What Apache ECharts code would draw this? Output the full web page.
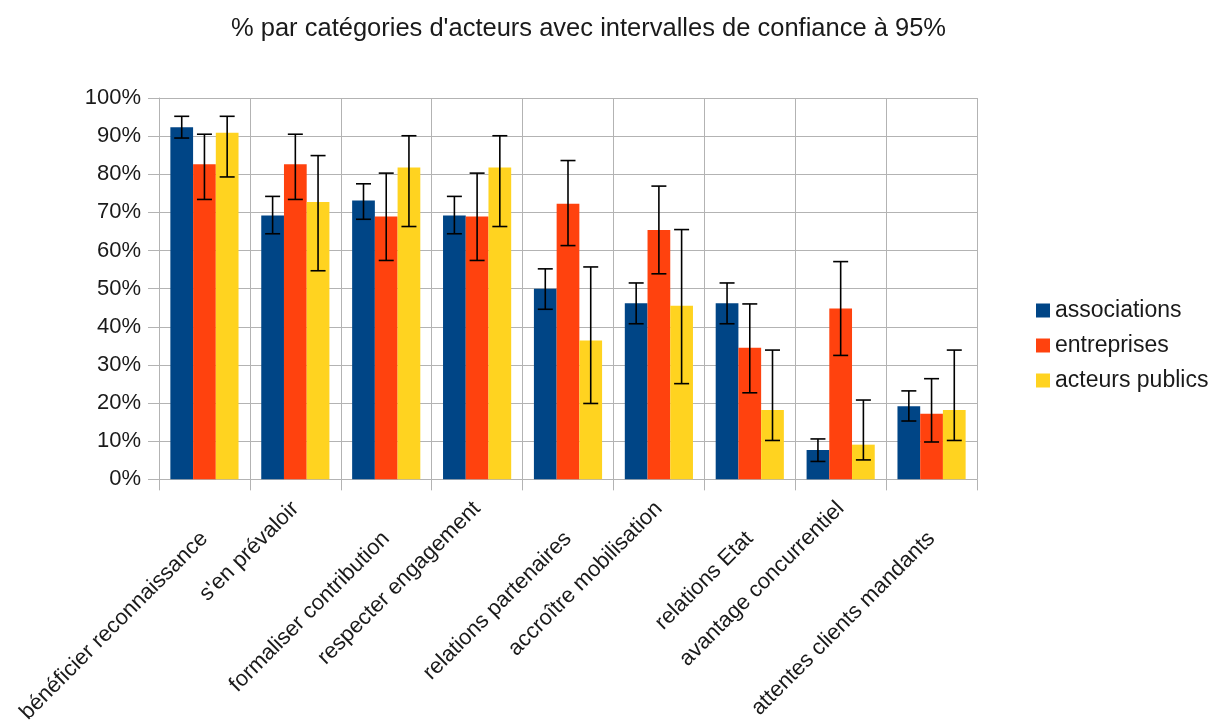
<!DOCTYPE html>
<html>
<head>
<meta charset="utf-8">
<script src="https://cdn.jsdelivr.net/npm/echarts@6/dist/echarts.min.js"></script>
<style>
html,body{margin:0;padding:0;background:#fff;}
#chart{width:1213px;height:726px;}
</style>
</head>
<body>
<div id="chart"></div>
<script>
const categories = ["bénéficier reconnaissance","s'en prévaloir","formaliser contribution","respecter engagement","relations partenaires","accroître mobilisation","relations Etat","avantage concurrentiel","attentes clients mandants"];
const seriesNames = ["associations","entreprises","acteurs publics"];
const associations = [92.3, 69.2, 73.1, 69.2, 50.0, 46.2, 46.2, 7.7, 19.2];
const associationsLow = [89.5, 64.4, 68.2, 64.4, 44.6, 40.8, 40.8, 4.7, 15.3];
const associationsHigh = [95.2, 74.2, 77.5, 74.2, 55.2, 51.5, 51.5, 10.6, 23.2];
const entreprises = [82.6, 82.6, 68.9, 68.9, 72.3, 65.4, 34.5, 44.8, 17.2];
const entreprisesLow = [73.4, 73.4, 57.4, 57.4, 61.3, 53.9, 22.7, 32.5, 9.8];
const entreprisesHigh = [90.5, 90.5, 80.3, 80.3, 83.6, 76.9, 46.0, 57.1, 26.4];
const acteursPublics = [90.9, 72.7, 81.8, 81.8, 36.4, 45.5, 18.2, 9.1, 18.2];
const acteursPublicsLow = [79.3, 54.7, 66.3, 66.3, 19.9, 25.1, 10.2, 5.1, 10.2];
const acteursPublicsHigh = [95.2, 84.9, 90.1, 90.1, 55.7, 65.5, 33.9, 20.8, 33.9];
const yTicks = {min: 0, max: 100, interval: 10};

const colors = ['#004586', '#ff420e', '#ffd320'];
const values = [associations, entreprises, acteursPublics];
const lows = [associationsLow, entreprisesLow, acteursPublicsLow];
const highs = [associationsHigh, entreprisesHigh, acteursPublicsHigh];
const gridColor = '#b3b3b3';
const catGapRatio = 0.25;

const chart = echarts.init(document.getElementById('chart'), null, {renderer: 'canvas'});

function errorSeries(k) {
  return {
    type: 'custom',
    name: seriesNames[k] + ' IC',
    xAxisIndex: 0,
    z: 10,
    silent: true,
    data: categories.map((c, i) => [i, lows[k][i], highs[k][i]]),
    encode: {x: 0, y: [1, 2]},
    renderItem: function (params, api) {
      const i = api.value(0);
      const catW = api.size([1, 0])[0];
      const bw = catW * (1 - catGapRatio) / 3;
      const cx = api.coord([i, 0])[0] + (k - 1) * bw;
      const yLo = api.coord([i, api.value(1)])[1];
      const yHi = api.coord([i, api.value(2)])[1];
      const half = 7.5;
      const st = {stroke: '#000', lineWidth: 1.6};
      return {
        type: 'group',
        children: [
          {type: 'line', shape: {x1: cx, y1: yLo, x2: cx, y2: yHi}, style: st},
          {type: 'line', shape: {x1: cx - half, y1: yHi, x2: cx + half, y2: yHi}, style: st},
          {type: 'line', shape: {x1: cx - half, y1: yLo, x2: cx + half, y2: yLo}, style: st}
        ]
      };
    }
  };
}

const labelFont = {fontFamily: 'Liberation Sans, Arial, sans-serif', fontSize: 22, color: '#1a1a1a'};

const option = {
  animation: false,
  backgroundColor: '#fff',
  title: {
    text: "% par catégories d'acteurs avec intervalles de confiance à 95%",
    left: 226,
    top: 11,
    textStyle: {fontFamily: 'Liberation Sans, Arial, sans-serif', fontSize: 25.5, fontWeight: 'normal', color: '#1a1a1a'}
  },
  legend: {
    data: seriesNames,
    orient: 'vertical',
    left: 1031,
    top: 294,
    icon: 'rect',
    itemWidth: 14,
    itemHeight: 14,
    itemGap: 12,
    textStyle: {fontFamily: 'Liberation Sans, Arial, sans-serif', fontSize: 23, color: '#1a1a1a', lineHeight: 23}
  },
  grid: {left: 159, right: 236, top: 98, bottom: 241, containLabel: false},
  xAxis: [
    {
      type: 'category',
      data: categories,
      position: 'bottom',
      axisLine: {show: true, lineStyle: {color: gridColor, width: 1}},
      axisTick: {show: true, interval: 0, length: 11, lineStyle: {color: gridColor}},
      splitLine: {show: true, interval: 0, lineStyle: {color: gridColor, width: 1}},
      axisLabel: Object.assign({
        interval: function (index) { return index % 2 === 0; },
        rotate: 45,
        margin: 56
      }, labelFont)
    },
    {
      type: 'category',
      data: categories,
      position: 'bottom',
      offset: 0,
      axisLine: {show: false},
      axisTick: {show: false},
      splitLine: {show: false},
      axisLabel: Object.assign({
        interval: function (index) { return index % 2 === 1; },
        rotate: 45,
        margin: 26
      }, labelFont)
    }
  ],
  yAxis: {
    type: 'value',
    min: yTicks.min,
    max: yTicks.max,
    interval: yTicks.interval,
    axisLine: {show: true, lineStyle: {color: gridColor, width: 1}},
    axisTick: {show: true, length: 11, lineStyle: {color: gridColor}},
    splitLine: {show: true, lineStyle: {color: gridColor, width: 1}},
    axisLabel: Object.assign({formatter: '{value}%', margin: 18}, labelFont)
  },
  series: [0, 1, 2].map(k => ({
    type: 'bar',
    name: seriesNames[k],
    xAxisIndex: 0,
    data: values[k],
    barGap: '0%',
    barCategoryGap: (catGapRatio * 100) + '%',
    itemStyle: {color: colors[k]}
  })).concat([0, 1, 2].map(errorSeries))
};

chart.setOption(option);
</script>
</body>
</html>
